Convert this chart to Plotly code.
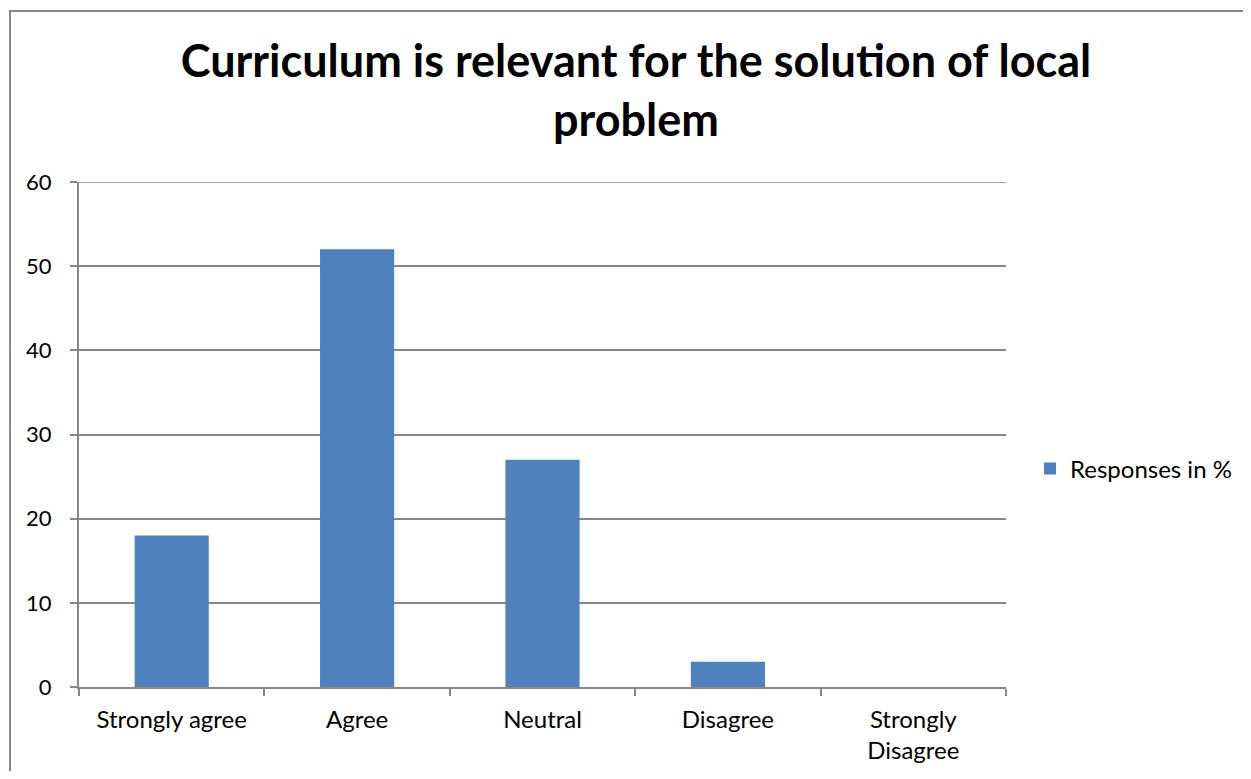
import plotly.graph_objects as go

categories = ["Strongly agree", "Agree", "Neutral", "Disagree", "Strongly Disagree"]
tick_labels = ["Strongly agree", "Agree", "Neutral", "Disagree", "Strongly<br>Disagree"]
responses = [18, 52, 27, 3, 0]
y_ticks = [0, 10, 20, 30, 40, 50, 60]
series_name = "Responses in %"

# page body has an 8px margin; size figure to fit the window
OFF = 8
W, H = 1251 - 2 * OFF, 779 - 2 * OFF
L, T = 79 - OFF, 182 - OFF
R = W - (1006 - OFF)
B = H - (687 - OFF)
pw, ph = W - L - R, H - T - B

FONT = "Lato, Calibri, Carlito, sans-serif"
GRAY = "#868686"

fig = go.Figure(go.Bar(
    x=categories, y=responses, name=series_name,
    marker=dict(color="#4F81BD", line=dict(width=0)),
    showlegend=True,
))

fig.update_layout(
    width=W, height=H,
    margin=dict(l=L, r=R, t=T, b=B, autoexpand=False),
    paper_bgcolor="white", plot_bgcolor="white",
    font=dict(family=FONT, color="black", size=22),
    bargap=0.6,
    title=dict(
        text="<b>Curriculum is relevant for the solution of local<br>problem</b>",
        x=(636 - OFF) / W, xanchor="center", xref="container",
        y=1 - 69 / H, yanchor="top", yref="container",
        font=dict(family=FONT, size=45, color="black"),
    ),
    legend=dict(
        x=(1030 - OFF - L) / pw, xanchor="left",
        y=(687 - 469) / ph, yanchor="middle",
        font=dict(family=FONT, size=24, color="black"),
        bgcolor="rgba(0,0,0,0)",
        itemwidth=30,
    ),
    xaxis=dict(
        type="category",
        tickvals=categories, ticktext=tick_labels,
        tickson="boundaries",
        ticks="outside", ticklen=7, tickcolor=GRAY, tickwidth=2,
        showline=True, linecolor=GRAY, linewidth=2,
        showgrid=False,
        ticklabelstandoff=10,
        tickfont=dict(family=FONT, size=24, color="black"),
        range=[-0.5, 4.5],
    ),
    yaxis=dict(
        range=[0, 60], tickvals=y_ticks,
        ticks="outside", ticklen=7, tickcolor=GRAY, tickwidth=2,
        showline=True, linecolor=GRAY, linewidth=2,
        showgrid=True, gridcolor=GRAY, gridwidth=1.5,
        zeroline=False,
        ticklabelstandoff=14,
        tickfont=dict(family=FONT, size=22, color="black"),
    ),
    shapes=[
        dict(
            type="rect", xref="paper", yref="paper",
            x0=(10 - OFF - L) / pw, x1=(W + 20 - L) / pw,
            y0=-(B + 20) / ph, y1=1 + (T - (11 - OFF)) / ph,
            line=dict(color=GRAY, width=2), fillcolor="rgba(0,0,0,0)",
            layer="below",
        ),
        dict(
            type="line", xref="paper", yref="y",
            x0=0, x1=1, y0=y_ticks[-1], y1=y_ticks[-1],
            line=dict(color=GRAY, width=1.5), layer="below",
        ),
    ],
)

fig.write_html("out.html")
